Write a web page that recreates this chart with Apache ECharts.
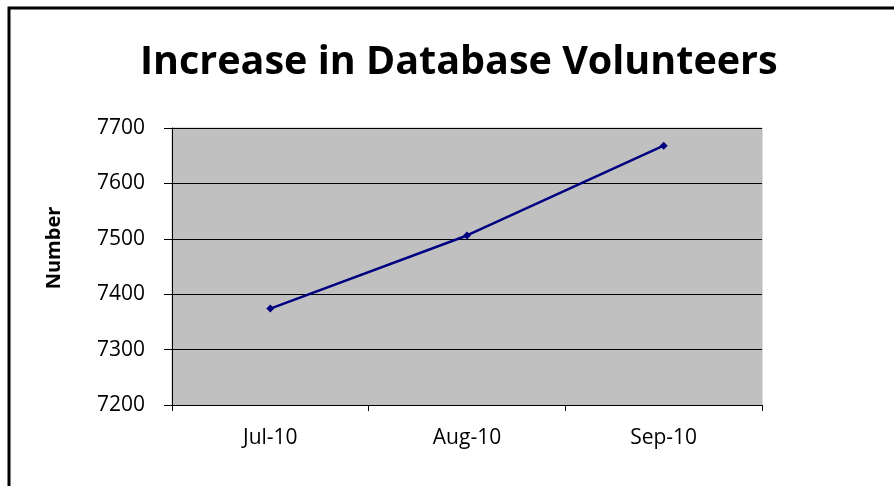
<!DOCTYPE html>
<html>
<head>
<meta charset="utf-8">
<script src="https://cdn.jsdelivr.net/npm/echarts@6/dist/echarts.min.js"></script>
<style>
  html, body { margin: 0; padding: 0; background: #fff; }
  #chart { width: 894px; height: 486px; }
</style>
</head>
<body>
<div id="chart"></div>
<script>
// Monthly volunteer counts in the database
const months = ['Jul-10', 'Aug-10', 'Sep-10'];
const volunteers = [7374, 7506, 7668];
const yTicks = { min: 7200, max: 7700, step: 100 };

const font = '"Open Sans", "Noto Sans", sans-serif';
const chart = echarts.init(document.getElementById('chart'));

chart.setOption({
  animation: false,
  title: {
    text: 'Increase in Database Volunteers',
    left: 135,
    top: 38,
    padding: 5,
    textStyle: { fontFamily: font, fontSize: 39.5, fontWeight: 'bold', color: '#000' }
  },
  grid: {
    left: 172, right: 132, top: 128, bottom: 81,
    show: true, backgroundColor: '#c0c0c0', borderColor: '#bdbdbd', borderWidth: 1
  },
  xAxis: {
    type: 'category',
    data: months,
    boundaryGap: true,
    axisLine: { lineStyle: { color: '#000', width: 1 } },
    axisTick: { show: true, length: 6, lineStyle: { color: '#000' } },
    axisLabel: { fontFamily: font, fontSize: 21, color: '#000', margin: 23 }
  },
  yAxis: {
    type: 'value',
    min: yTicks.min, max: yTicks.max, interval: yTicks.step,
    axisLine: { show: true, lineStyle: { color: '#000' } },
    axisTick: { show: true, length: 8, lineStyle: { color: '#000' } },
    axisLabel: {
      fontFamily: font, fontSize: 21, color: '#000', margin: 27,
      formatter: v => String(v)
    },
    splitLine: { lineStyle: { color: '#000', width: 1 } }
  },
  series: [{
    type: 'line',
    data: volunteers,
    symbol: 'diamond',
    symbolSize: 8,
    lineStyle: { color: '#000080', width: 2.5 },
    itemStyle: { color: '#000080' }
  }],
  graphic: [{
    type: 'rect',
    shape: { x: 9, y: 8, width: 900, height: 500 },
    style: { fill: 'none', stroke: '#000', lineWidth: 3 },
    z: 100
  }, {
    type: 'text',
    x: 54, y: 248,
    rotation: Math.PI / 2,
    style: {
      text: 'Number',
      fontFamily: font, fontSize: 20, fontWeight: 'bold', fill: '#000',
      align: 'center', verticalAlign: 'middle'
    }
  }]
});
</script>
</body>
</html>
